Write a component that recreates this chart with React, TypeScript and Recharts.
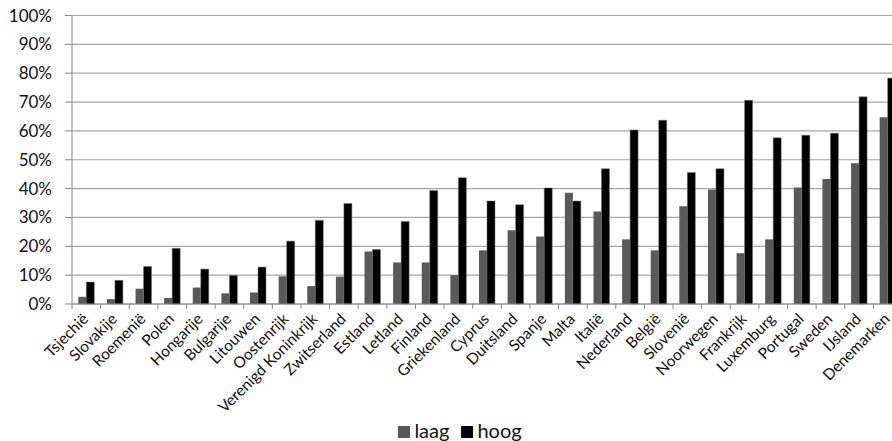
import { Bar, BarChart, CartesianGrid, Legend, XAxis, YAxis } from "recharts";

const countries = [
  "Tsjechië", "Slovakije", "Roemenië", "Polen", "Hongarije", "Bulgarije", "Litouwen",
  "Oostenrijk", "Verenigd Koninkrijk", "Zwitserland", "Estland", "Letland", "Finland",
  "Griekenland", "Cyprus", "Duitsland", "Spanje", "Malta", "Italië", "Nederland", "België",
  "Slovenië", "Noorwegen", "Frankrijk", "Luxemburg", "Portugal", "Sweden", "IJsland", "Denemarken",
];

const laag = [
  2.5, 1.7, 5.3, 2.1, 5.7, 3.7, 4.0, 9.6, 6.2, 9.5, 18.2, 14.4, 14.4, 10.0, 18.6, 25.6, 23.4,
  38.6, 32.1, 22.4, 18.6, 33.9, 39.7, 17.6, 22.4, 40.4, 43.3, 48.8, 64.7,
];

const hoog = [
  7.6, 8.2, 13.0, 19.3, 12.1, 9.9, 12.8, 21.8, 29.0, 34.8, 18.9, 28.6, 39.3, 43.8, 35.7, 34.4,
  40.2, 35.7, 46.9, 60.3, 63.7, 45.6, 46.9, 70.6, 57.6, 58.5, 59.2, 71.8, 78.3,
];

const yTicks = [0, 10, 20, 30, 40, 50, 60, 70, 80, 90, 100];

const data = countries.map((c, i) => ({ country: c, laag: laag[i], hoog: hoog[i] }));

const FONT = "Lato, 'Open Sans', sans-serif";
const CHART_W = 910;
const PLOT_LEFT = 72;
const BAND = (CHART_W - PLOT_LEFT - 8) / countries.length;

function CountryTick(props: any) {
  const { x, y, payload, index } = props;
  const last = index === countries.length - 1;
  return (
    <g>
      <line x1={x - BAND / 2} x2={x - BAND / 2} y1={y - 8} y2={y - 3} stroke="#888" />
      {last ? <line x1={x + BAND / 2} x2={x + BAND / 2} y1={y - 8} y2={y - 3} stroke="#888" /> : null}
      <text
        x={x + 3}
        y={y + 8}
        textAnchor="end"
        fontSize={15.5}
        fontFamily={FONT}
        fill="#111"
        transform={`rotate(-45 ${x + 3} ${y + 8})`}
      >
        {payload.value}
      </text>
    </g>
  );
}

function LegendBox() {
  const items = [
    { name: "laag", color: "#595959" },
    { name: "hoog", color: "#000" },
  ];
  return (
    <div style={{ display: "flex", justifyContent: "center", fontFamily: FONT, fontSize: 20, lineHeight: "22px", color: "#111", paddingLeft: 30 }}>
      {items.map((it) => (
        <span key={it.name} style={{ display: "inline-flex", alignItems: "center", marginRight: 12 }}>
          <span style={{ width: 12, height: 12, background: it.color, display: "inline-block", marginRight: 4, marginTop: 3 }} />
          {it.name}
        </span>
      ))}
    </div>
  );
}

export default function App() {
  return (
    <div style={{ position: "fixed", left: 0, top: 0, width: 892, height: 441, overflow: "hidden", background: "#fff" }}>
      <BarChart
        width={CHART_W}
        height={441}
        data={data}
        margin={{ top: 15.5, right: 8, bottom: 0, left: 0 }}
        barCategoryGap="22%"
        barGap={0}
      >
        <CartesianGrid vertical={false} stroke="#a6a6a6" strokeWidth={1.2} />
        <XAxis
          dataKey="country"
          interval={0}
          height={115}
          tickLine={false}
          axisLine={{ stroke: "#888" }}
          tick={<CountryTick />}
        />
        <YAxis
          width={PLOT_LEFT}
          domain={[0, 100]}
          ticks={yTicks}
          tickFormatter={(v: number) => `${v}%`}
          tick={{ fill: "#111", fontSize: 17, fontFamily: FONT }}
          tickSize={7}
          tickMargin={13}
          axisLine={{ stroke: "#888" }}
          tickLine={{ stroke: "#888" }}
        />
        <Legend verticalAlign="bottom" height={22} content={<LegendBox />} />
        <Bar dataKey="laag" name="laag" fill="#595959" isAnimationActive={false} />
        <Bar dataKey="hoog" name="hoog" fill="#000" stroke="#777" strokeWidth={0.5} isAnimationActive={false} />
      </BarChart>
    </div>
  );
}
